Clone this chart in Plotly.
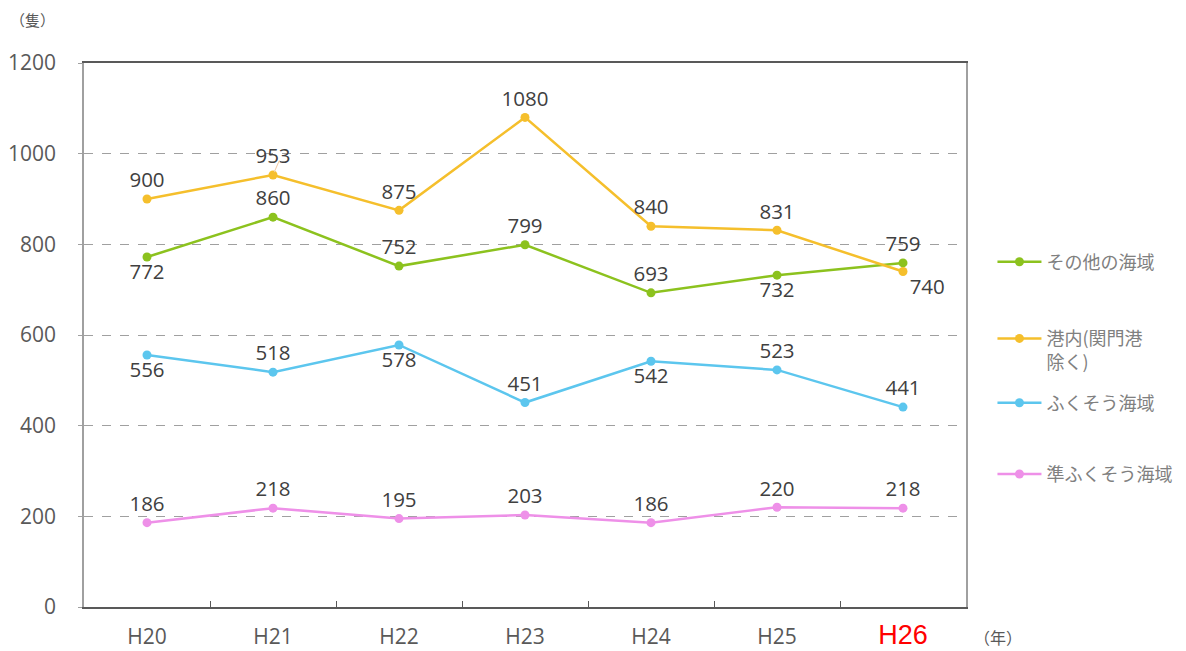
import plotly.graph_objects as go

years = ["H20", "H21", "H22", "H23", "H24", "H25", "H26"]
other_sea = [772, 860, 752, 799, 693, 732, 759]
harbor = [900, 953, 875, 1080, 840, 831, 740]
fukusou = [556, 518, 578, 451, 542, 523, 441]
jun_fukusou = [186, 218, 195, 203, 186, 220, 218]

names = ["その他の海域", "港内(関門港<br>除く)", "ふくそう海域", "準ふくそう海域"]
colors = ["#8CC21E", "#F5BF2C", "#5CC6EE", "#EE90E8"]
positions = [
    ["bottom center", "top center", "top center", "top center", "top center", "bottom center", "top center"],
    ["top center", "top center", "top center", "top center", "top center", "top center", "bottom right"],
    ["bottom center", "top center", "bottom center", "top center", "bottom center", "top center", "top center"],
    ["top center"] * 7,
]
series = [other_sea, harbor, fukusou, jun_fukusou]
legend_ids = ["legend", "legend2", "legend3", "legend4"]
legend_y = [0.634, 0.472, 0.375, 0.244]

fig = go.Figure()
for nm, vals, col, pos, lg in zip(names, series, colors, positions, legend_ids):
    fig.add_trace(go.Scatter(
        x=years, y=vals, name=nm, mode="lines+markers+text",
        line=dict(color=col, width=2.5),
        marker=dict(color=col, size=9),
        text=[str(v) for v in vals], textposition=pos,
        textfont=dict(size=20.5, color="#404040", family="Open Sans, sans-serif"),
        legend=lg,
    ))

ticktext = years[:-1] + ['<span style="color:#FF0000;font-size:27px;font-family:Liberation Sans, Arial">H26</span>']

legend_common = dict(x=1.03, xanchor="left", yanchor="middle", itemwidth=44,
                     font=dict(size=18, color="#808080", family="Noto Sans CJK JP, sans-serif"),
                     bgcolor="rgba(0,0,0,0)")
layout_legends = {}
for lg, ly in zip(legend_ids, legend_y):
    d = dict(legend_common)
    d["y"] = ly
    if lg == "legend2":
        d["valign"] = "top"
    layout_legends[lg] = d

fig.update_layout(
    width=1186, height=651,
    margin=dict(l=76, r=228, t=55, b=52, autoexpand=False),
    plot_bgcolor="white", paper_bgcolor="white",
    font=dict(family="Open Sans, Noto Sans CJK JP, sans-serif", color="#595959", size=21),
    showlegend=True,
    xaxis=dict(
        type="category", tickvals=years, ticktext=ticktext,
        showline=True, linecolor="#595959", linewidth=1.5, mirror=True,
        ticks="inside", tickson="boundaries", ticklen=6, tickcolor="#595959",
        showgrid=False, ticklabelstandoff=10, automargin=False,
        range=[-0.5, 6.5],
    ),
    yaxis=dict(
        range=[0, 1200], dtick=200,
        showline=True, linecolor="#A0A0A0", linewidth=1.5, mirror=True,
        showgrid=True, gridcolor="#A0A0A0", griddash="dash", gridwidth=1,
        zeroline=False, ticks="outside", ticklen=4, tickcolor="#A0A0A0",
        ticklabelstandoff=18, automargin=False,
    ),
    annotations=[
        dict(text="（隻）", x=0, y=1, xref="paper", yref="paper", xshift=-76, yshift=44,
             xanchor="left", yanchor="middle", showarrow=False,
             font=dict(size=15, color="#595959", family="Noto Sans CJK JP")),
        dict(text="（年）", x=1, y=0, xref="paper", yref="paper", xshift=6, yshift=-30,
             xanchor="left", yanchor="middle", showarrow=False,
             font=dict(size=16, color="#595959", family="Noto Sans CJK JP")),
        dict(text="", x="H21", y=953, xref="x", yref="y", showarrow=True, arrowhead=0,
             arrowwidth=1, arrowcolor="#F2C9A0", ax=7, ay=-16, standoff=3),
    ],
    **layout_legends,
)

fig.write_html("out.html")
